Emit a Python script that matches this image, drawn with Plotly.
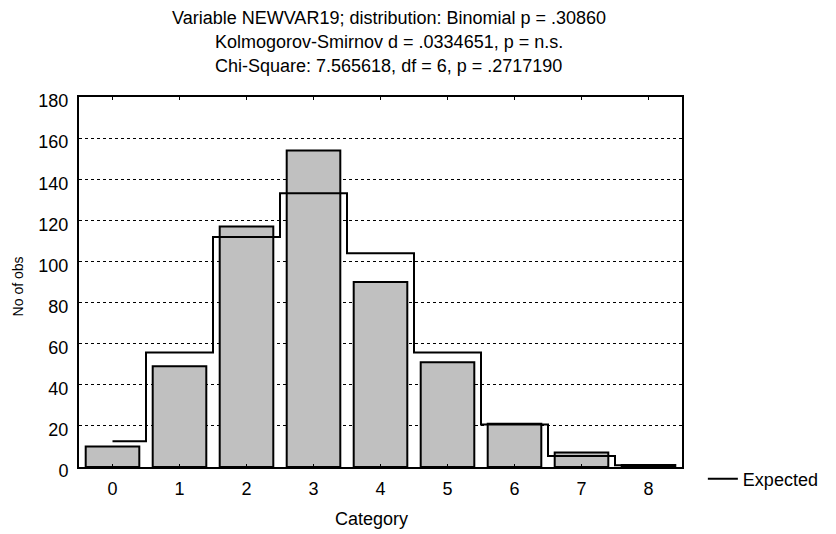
import plotly.graph_objects as go

# Observed frequencies and fitted binomial expectations per category
categories = [0, 1, 2, 3, 4, 5, 6, 7, 8]
observed = [10, 49, 117, 154, 90, 51, 21, 7, 1]
expected = [12.5, 55.7, 111.9, 133.2, 104.0, 55.7, 20.7, 5.3, 0.9]
y_ticks = [0, 20, 40, 60, 80, 100, 120, 140, 160, 180]

title_lines = [
    "Variable NEWVAR19; distribution: Binomial p = .30860",
    "Kolmogorov-Smirnov d = .0334651, p = n.s.",
    "Chi-Square: 7.565618, df = 6, p = .2717190",
]

FONT = "Liberation Sans, Arial, sans-serif"
FS = 18

fig = go.Figure()

fig.add_trace(go.Bar(
    x=categories, y=observed, width=0.8,
    marker=dict(color="#c0c0c0", line=dict(color="black", width=2)),
    showlegend=False, name="Observed",
))

fig.add_trace(go.Scatter(
    x=categories, y=expected, mode="lines", name="Expected",
    line=dict(color="black", width=2, shape="hvh"),
))

L, R, T, B = 79, 150, 97, 67
W, H = 836, 534
plot_w = W - L - R
plot_h = H - T - B

def px_x(xpix):
    return (xpix - L) / plot_w

def px_y(ypix):
    return (H - B - ypix) / plot_h

annotations = []
for line, ypix in zip(title_lines, [18, 42, 66]):
    annotations.append(dict(
        text=line, xref="paper", yref="paper",
        x=px_x(391), y=px_y(ypix),
        xanchor="center", yanchor="middle", showarrow=False,
        font=dict(family=FONT, size=FS, color="black"),
    ))

annotations.append(dict(
    text="Category", xref="paper", yref="paper",
    x=px_x(373), y=px_y(519),
    xanchor="center", yanchor="middle", showarrow=False,
    font=dict(family=FONT, size=FS, color="black"),
))
annotations.append(dict(
    text="No of obs", xref="paper", yref="paper",
    x=px_x(18), y=px_y(286),
    xanchor="center", yanchor="middle", showarrow=False, textangle=-90,
    font=dict(family="Liberation Sans Narrow, Arial Narrow, " + FONT, size=14, color="black"),
))

fig.update_layout(
    width=W, height=H,
    margin=dict(l=L, r=R, t=T, b=B, pad=0),
    paper_bgcolor="white", plot_bgcolor="white",
    font=dict(family=FONT, size=FS, color="black"),
    annotations=annotations,
    legend=dict(
        x=px_x(707), y=px_y(479),
        xanchor="left", yanchor="middle",
        bgcolor="rgba(0,0,0,0)", borderwidth=0,
        font=dict(family=FONT, size=FS, color="black"),
    ),
    xaxis=dict(
        range=[-0.5, 8.5], tickmode="array", tickvals=categories,
        ticktext=[str(c) for c in categories],
        showline=True, linecolor="black", linewidth=2, mirror="allticks",
        ticks="inside", ticklen=3, tickwidth=1, tickcolor="black",
        showgrid=False, zeroline=False, ticklabelstandoff=4,
    ),
    yaxis=dict(
        range=[0, 180], tickmode="array", tickvals=y_ticks,
        showline=True, linecolor="black", linewidth=2, mirror="allticks",
        ticks="inside", ticklen=3, tickwidth=1, tickcolor="black",
        showgrid=True, gridcolor="black", gridwidth=1, griddash="dot",
        zeroline=False, ticklabelstandoff=5, ticklabelshift=4,
    ),
)

fig.write_html("out.html")
